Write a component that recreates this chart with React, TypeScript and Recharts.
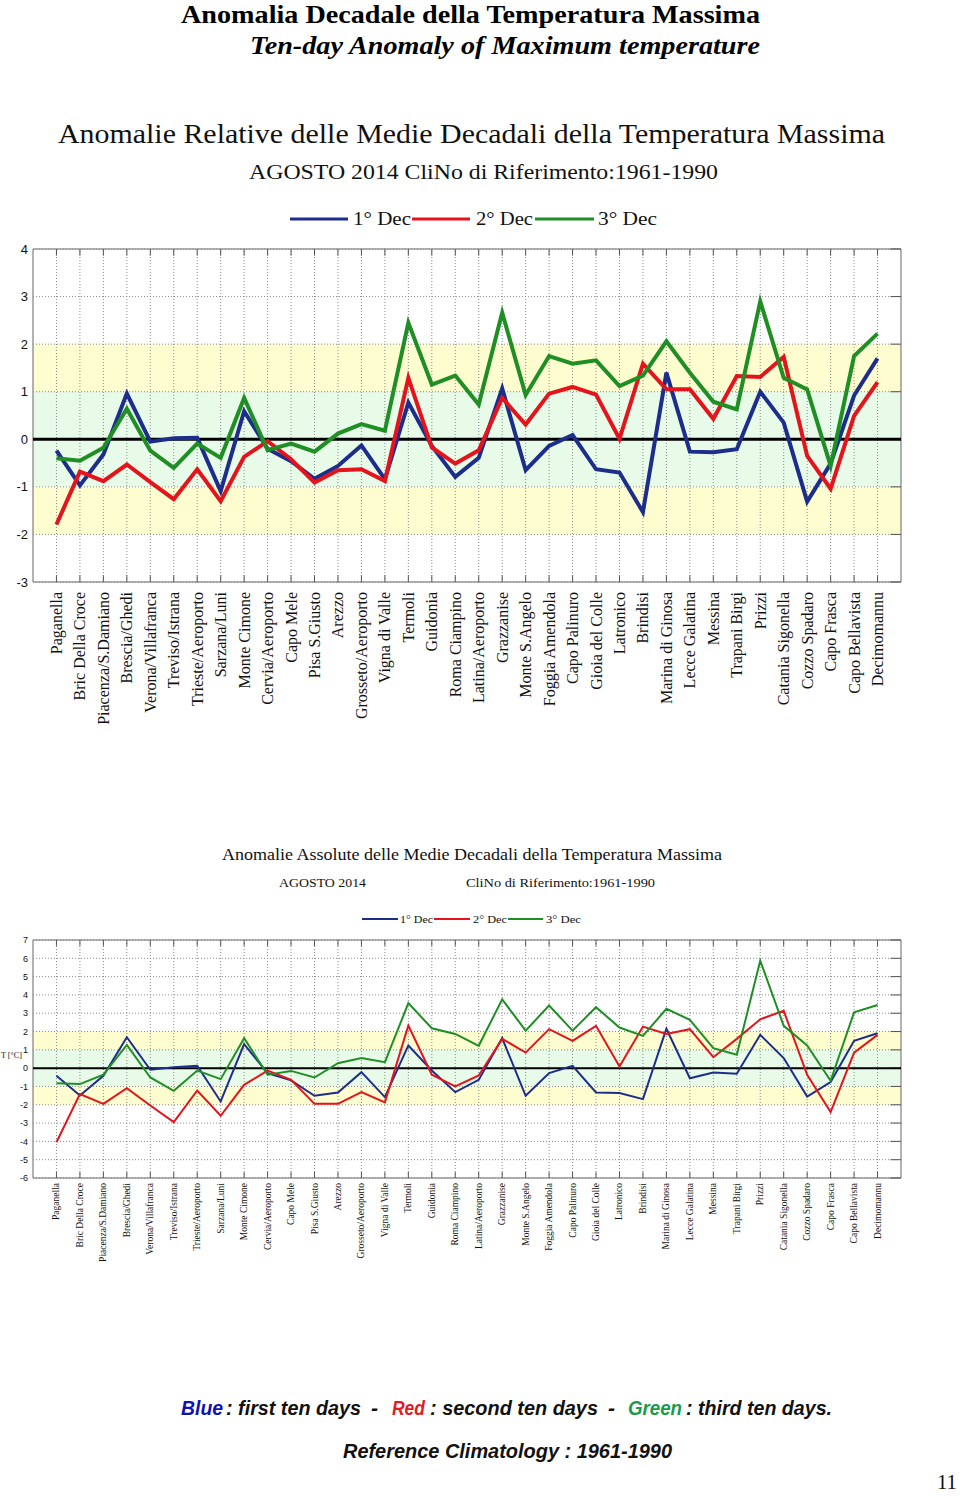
import React from "react"
import { LineChart, Line, XAxis, YAxis, ReferenceArea, ReferenceLine } from "recharts"

// stations, west-north to south-islands, as on the x axis
const stations = [
  "Paganella", "Bric Della Croce", "Piacenza/S.Damiano", "Brescia/Ghedi", "Verona/Villafranca",
  "Treviso/Istrana", "Trieste/Aeroporto", "Sarzana/Luni", "Monte Cimone", "Cervia/Aeroporto",
  "Capo Mele", "Pisa S.Giusto", "Arezzo", "Grosseto/Aeroporto", "Vigna di Valle", "Termoli",
  "Guidonia", "Roma Ciampino", "Latina/Aeroporto", "Grazzanise", "Monte S.Angelo",
  "Foggia Amendola", "Capo Palinuro", "Gioia del Colle", "Latronico", "Brindisi",
  "Marina di Ginosa", "Lecce Galatina", "Messina", "Trapani Birgi", "Prizzi",
  "Catania Sigonella", "Cozzo Spadaro", "Capo Frasca", "Capo Bellavista", "Decimomannu",
]

// relative anomalies (top chart)
const relDec1 = [-0.24, -0.97, -0.32, 0.96, -0.05, 0.02, 0.03, -1.09, 0.59, -0.2, -0.46, -0.83,
  -0.56, -0.13, -0.84, 0.77, -0.14, -0.79, -0.39, 1.07, -0.65, -0.14, 0.09, -0.63,
  -0.7, -1.53, 1.4, -0.26, -0.27, -0.21, 1.0, 0.35, -1.31, -0.51, 0.92, 1.7]
const relDec2 = [-1.79, -0.68, -0.88, -0.53, -0.9, -1.26, -0.63, -1.3, -0.37, -0.04, -0.42, -0.91,
  -0.65, -0.63, -0.88, 1.29, -0.17, -0.51, -0.23, 0.87, 0.31, 0.96, 1.1, 0.94,
  0.01, 1.59, 1.05, 1.05, 0.43, 1.33, 1.31, 1.73, -0.35, -1.04, 0.49, 1.2]
const relDec3 = [-0.4, -0.45, -0.18, 0.64, -0.24, -0.6, -0.09, -0.39, 0.87, -0.23, -0.09, -0.26,
  0.12, 0.32, 0.18, 2.45, 1.15, 1.34, 0.73, 2.66, 0.93, 1.75, 1.59, 1.66,
  1.12, 1.34, 2.06, 1.4, 0.79, 0.63, 2.9, 1.29, 1.05, -0.56, 1.75, 2.22]

// absolute anomalies in degC (bottom chart)
const absDec1 = [-0.42, -1.49, -0.42, 1.69, -0.09, 0.05, 0.13, -1.82, 1.31, -0.27, -0.67, -1.51,
  -1.33, -0.22, -1.58, 1.24, -0.13, -1.31, -0.64, 1.64, -1.51, -0.27, 0.13, -1.33,
  -1.36, -1.69, 2.15, -0.55, -0.24, -0.31, 1.82, 0.55, -1.55, -0.76, 1.49, 1.91]
const absDec2 = [-4.05, -1.42, -1.95, -1.09, -2.04, -2.95, -1.22, -2.6, -0.91, -0.13, -0.64, -1.95,
  -1.95, -1.31, -1.87, 2.33, -0.36, -1.0, -0.4, 1.6, 0.85, 2.13, 1.49, 2.31,
  0.09, 2.27, 1.87, 2.13, 0.6, 1.6, 2.67, 3.13, -0.36, -2.4, 0.85, 1.82]
const absDec3 = [-0.82, -0.87, -0.36, 1.27, -0.51, -1.24, -0.13, -0.6, 1.64, -0.36, -0.15, -0.51,
  0.27, 0.55, 0.33, 3.55, 2.18, 1.87, 1.22, 3.76, 2.05, 3.42, 2.05, 3.33,
  2.22, 1.76, 3.24, 2.64, 1.09, 0.73, 5.87, 2.31, 1.24, -0.69, 3.05, 3.45]

const relTicks = [4, 3, 2, 1, 0, -1, -2, -3]
const absTicks = [7, 6, 5, 4, 3, 2, 1, 0, -1, -2, -3, -4, -5, -6]
const idxTicks = stations.map((_, i) => i + 1)

const BLUE = "#1c2d8c"
const RED = "#e3141c"
const GREEN = "#1f8f25"
const YELLOW = "#fdfdd0"
const MINT = "#e8fae8"

const relData = stations.map((name, i) => ({ idx: i + 1, name, d1: relDec1[i], d2: relDec2[i], d3: relDec3[i] }))
const absData = stations.map((name, i) => ({ idx: i + 1, name, d1: absDec1[i], d2: absDec2[i], d3: absDec3[i] }))

const StationTick = (props: any) => {
  const { x, y, payload, fs } = props
  return (
    <text x={x} y={y} transform={`rotate(-90 ${x} ${y})`} textAnchor="end" dominantBaseline="central"
      fontFamily="Liberation Serif" fontSize={fs} fill="#111">
      {stations[payload.value - 1]}
    </text>
  )
}

const renderPanel = (ticks: number[], yMin: number, yMax: number, lw: number, tickLen: number) => {
  const dy = (yMax - yMin) * tickLen
  return [
    <ReferenceArea key="b1" y1={1} y2={2} fill={YELLOW} fillOpacity={1} stroke="none" />,
    <ReferenceArea key="b2" y1={-1} y2={1} fill={MINT} fillOpacity={1} stroke="none" />,
    <ReferenceArea key="b3" y1={-2} y2={-1} fill={YELLOW} fillOpacity={1} stroke="none" />,
    ...ticks.map((t) => <ReferenceLine key={"h" + t} y={t} stroke="#8a8a8a" strokeDasharray="1 2" />),
    ...idxTicks.map((i) => <ReferenceLine key={"v" + i} x={i} stroke="#8a8a8a" strokeDasharray="1 2" />),
    ...idxTicks.map((i) => <ReferenceLine key={"tt" + i} segment={[{ x: i, y: yMax }, { x: i, y: yMax - dy }]} stroke="#555" />),
    ...idxTicks.map((i) => <ReferenceLine key={"tb" + i} segment={[{ x: i, y: yMin }, { x: i, y: yMin + dy }]} stroke="#555" />),
    ...ticks.map((t) => <ReferenceLine key={"tr" + t} segment={[{ x: 37, y: t }, { x: 36.55, y: t }]} stroke="#555" />),
    <ReferenceLine key="zero" y={0} stroke="#000" strokeWidth={lw > 3 ? 3 : 2} />,
    <ReferenceArea key="frame" x1={0} x2={37} y1={yMin} y2={yMax} fill="none" stroke="#666" strokeWidth={1} />,
    <Line key="d1" type="linear" dataKey="d1" stroke={BLUE} strokeWidth={lw} dot={false} isAnimationActive={false} />,
    <Line key="d2" type="linear" dataKey="d2" stroke={RED} strokeWidth={lw} dot={false} isAnimationActive={false} />,
    <Line key="d3" type="linear" dataKey="d3" stroke={GREEN} strokeWidth={lw} dot={false} isAnimationActive={false} />,
  ]
}

const SG = "spacingAndGlyphs"

// footer pieces: text, x, width, colour
const footerParts: [string, number, number, string][] = [
  ["Blue", 181, 42, "#1111b0"],
  [": first ten days", 226, 135, "#111"],
  ["-", 371, 7, "#111"],
  ["Red", 392, 33, "#e11b22"],
  [": second ten days", 430, 168, "#111"],
  ["-", 608, 7, "#111"],
  ["Green", 628, 54, "#1a9b4b"],
  [": third ten days.", 686, 146, "#111"],
]

const Texts = () => (
  <svg width={960} height={1496} style={{ position: "absolute", left: 0, top: 0 }}>
    <text x={181} y={23} textLength={579} lengthAdjust={SG} fontFamily="Liberation Serif" fontWeight="bold" fontSize={25}>
      Anomalia Decadale della Temperatura Massima
    </text>
    <text x={250} y={54} textLength={510} lengthAdjust={SG} fontFamily="Liberation Serif" fontWeight="bold" fontStyle="italic" fontSize={25}>
      Ten-day Anomaly of Maximum temperature
    </text>

    <text x={58} y={143} textLength={827} lengthAdjust={SG} fontFamily="Liberation Serif" fontSize={27} fill="#111">
      Anomalie Relative delle Medie Decadali della Temperatura Massima
    </text>
    <text x={249} y={179} textLength={469} lengthAdjust={SG} fontFamily="Liberation Serif" fontSize={20} fill="#111">
      AGOSTO 2014 CliNo di Riferimento:1961-1990
    </text>
    <line x1={290} x2={348} y1={219} y2={219} stroke={BLUE} strokeWidth={3} />
    <text x={353} y={225} textLength={58} lengthAdjust={SG} fontFamily="Liberation Serif" fontSize={19} fill="#111">1° Dec</text>
    <line x1={412} x2={470} y1={219} y2={219} stroke={RED} strokeWidth={3} />
    <text x={476} y={225} textLength={57} lengthAdjust={SG} fontFamily="Liberation Serif" fontSize={19} fill="#111">2° Dec</text>
    <line x1={535} x2={594} y1={219} y2={219} stroke={GREEN} strokeWidth={3} />
    <text x={598} y={225} textLength={59} lengthAdjust={SG} fontFamily="Liberation Serif" fontSize={19} fill="#111">3° Dec</text>

    <text x={222} y={860} textLength={500} lengthAdjust={SG} fontFamily="Liberation Serif" fontSize={16} fill="#111">
      Anomalie Assolute delle Medie Decadali della Temperatura Massima
    </text>
    <text x={279} y={887} textLength={87} lengthAdjust={SG} fontFamily="Liberation Serif" fontSize={13} fill="#111">AGOSTO 2014</text>
    <text x={466} y={887} textLength={189} lengthAdjust={SG} fontFamily="Liberation Serif" fontSize={13} fill="#111">
      CliNo di Riferimento:1961-1990
    </text>
    <line x1={362} x2={398} y1={919} y2={919} stroke={BLUE} strokeWidth={2} />
    <text x={400} y={923} textLength={33} lengthAdjust={SG} fontFamily="Liberation Serif" fontSize={11} fill="#111">1° Dec</text>
    <line x1={434} x2={470} y1={919} y2={919} stroke={RED} strokeWidth={2} />
    <text x={473} y={923} textLength={34} lengthAdjust={SG} fontFamily="Liberation Serif" fontSize={11} fill="#111">2° Dec</text>
    <line x1={508} x2={543} y1={919} y2={919} stroke={GREEN} strokeWidth={2} />
    <text x={546} y={923} textLength={35} lengthAdjust={SG} fontFamily="Liberation Serif" fontSize={11} fill="#111">3° Dec</text>
    <text x={1} y={1058} textLength={21} lengthAdjust={SG} fontFamily="Liberation Serif" fontSize={9} fill="#111">T [°C]</text>

    {footerParts.map(([t, x, w, c]) => (
      <text key={x} x={x} y={1415} textLength={w} lengthAdjust={SG} fontFamily="Liberation Sans" fontWeight="bold"
        fontStyle="italic" fontSize={21} fill={c}>{t}</text>
    ))}
    <text x={343} y={1458} textLength={329} lengthAdjust={SG} fontFamily="Liberation Sans" fontWeight="bold" fontStyle="italic" fontSize={21} fill="#111">
      Reference Climatology : 1961-1990
    </text>
    <text x={937} y={1489} textLength={20} lengthAdjust={SG} fontFamily="Liberation Serif" fontSize={20} fill="#111">11</text>
  </svg>
)

export default function App() {
  return (
    <div style={{ position: "absolute", left: 0, top: 0, width: 960, height: 1496, background: "#fff" }}>
      <Texts />
      <div style={{ position: "absolute", left: 0, top: 240 }}>
        <LineChart width={960} height={520} data={relData} margin={{ top: 9, right: 59, bottom: 8, left: 0 }}>
          <XAxis type="number" dataKey="idx" domain={[0, 37]} ticks={idxTicks} interval={0} height={170}
            axisLine={false} tickLine={false} tickSize={0} tickMargin={10}
            tick={(p: any) => <StationTick {...p} fs={16} />} />
          <YAxis type="number" domain={[-3, 4]} ticks={relTicks} interval={0} width={33}
            axisLine={false} tickLine={false} tickSize={3} tickMargin={2}
            tick={{ fontSize: 13, fill: "#111", fontFamily: "Liberation Sans" }} />
          {renderPanel(relTicks, -3, 4, 4, 0.02)}
        </LineChart>
      </div>
      <div style={{ position: "absolute", left: 0, top: 930 }}>
        <LineChart width={960} height={340} data={absData} margin={{ top: 10, right: 59, bottom: 5, left: 0 }}>
          <XAxis type="number" dataKey="idx" domain={[0, 37]} ticks={idxTicks} interval={0} height={87}
            axisLine={false} tickLine={false} tickSize={0} tickMargin={5}
            tick={(p: any) => <StationTick {...p} fs={9.5} />} />
          <YAxis type="number" domain={[-6, 7]} ticks={absTicks} interval={0} width={33}
            axisLine={false} tickLine={false} tickSize={3} tickMargin={2}
            tick={{ fontSize: 9, fill: "#111", fontFamily: "Liberation Sans" }} />
          {renderPanel(absTicks, -6, 7, 2, 0.025)}
        </LineChart>
      </div>
    </div>
  )
}
